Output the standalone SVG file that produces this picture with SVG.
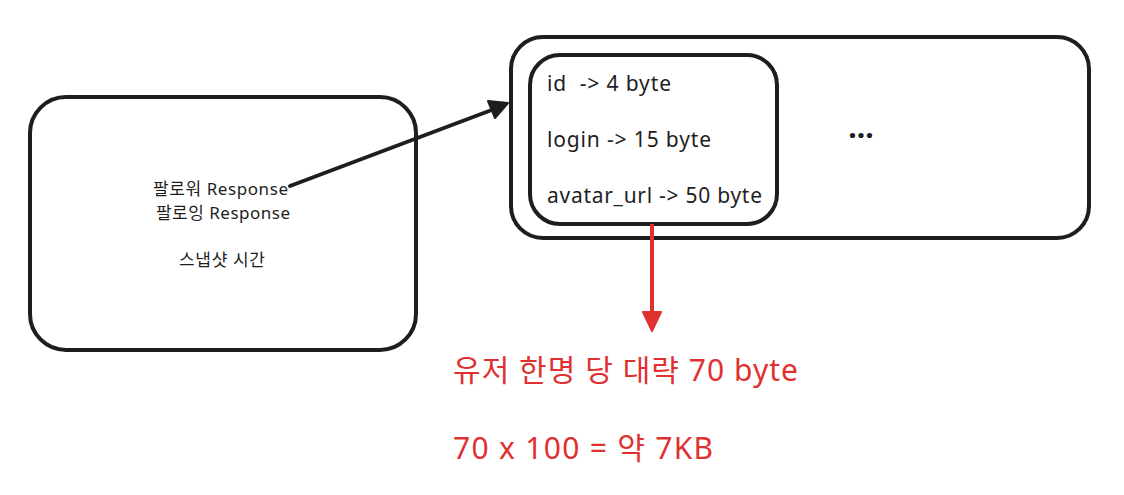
<svg xmlns="http://www.w3.org/2000/svg" width="1124" height="495" viewBox="0 0 1124 495">
<defs>
<style>
.box{fill:none;stroke:#1e1e1e;stroke-width:4;stroke-linejoin:round}
.t{font-family:"Noto Sans","Noto Sans CJK KR",sans-serif;fill:#1e1e1e}
.r{font-family:"Noto Sans","Noto Sans CJK KR",sans-serif;fill:#e03131;font-size:30px}
</style>
</defs>
<rect width="1124" height="495" fill="#ffffff"/>
<g id="left">
<rect class="box" x="30" y="97" width="386" height="253" rx="36"/>
<text class="t" x="153" y="195" font-size="17" textLength="135">팔로워 Response</text>
<text class="t" x="156" y="219" font-size="17" textLength="134">팔로잉 Response</text>
<text class="t" x="179" y="266" font-size="17" textLength="86">스냅샷 시간</text>
</g>
<g id="outer">
<rect class="box" x="511" y="37" width="578" height="201" rx="32"/>
<text class="t" x="861" y="138" font-size="30" font-weight="bold" text-anchor="middle">...</text>
</g>
<g id="inner">
<rect class="box" x="530" y="55" width="247" height="169" rx="30"/>
<text class="t" x="547" y="91" font-size="21" xml:space="preserve" textLength="124">id  -&gt; 4 byte</text>
<text class="t" x="547" y="147" font-size="21" textLength="164">login -&gt; 15 byte</text>
<text class="t" x="547" y="203" font-size="21" textLength="215">avatar_url -&gt; 50 byte</text>
</g>
<g id="result">
<text class="r" x="453" y="381" textLength="345">유저 한명 당 대략 70 byte</text>
<text class="r" x="453" y="459" textLength="260">70 x 100 = 약 7KB</text>
</g>
<g id="connectors">
<line x1="290" y1="186" x2="497" y2="108" stroke="#1e1e1e" stroke-width="4" stroke-linecap="round"/>
<polygon points="508,103 488,101 495,118" fill="#1e1e1e" stroke="#1e1e1e" stroke-width="2" stroke-linejoin="round"/>
<line x1="652" y1="224" x2="652" y2="314" stroke="#e03131" stroke-width="4"/>
<polygon points="643,312 661,312 652,331" fill="#e03131" stroke="#e03131" stroke-width="2" stroke-linejoin="round"/>
</g>
</svg>
